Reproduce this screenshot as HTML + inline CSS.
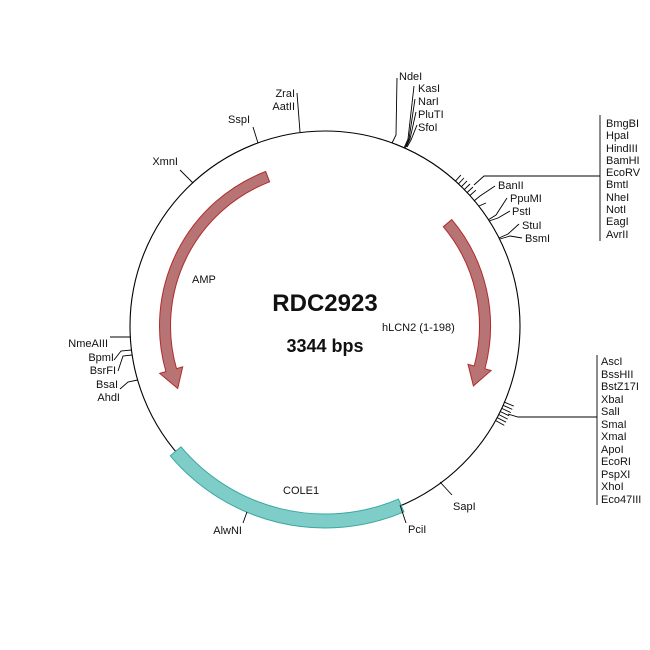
<!DOCTYPE html>
<html><head><meta charset="utf-8"><style>
html,body{margin:0;padding:0;background:#fff;}
svg{display:block;}
text{font-family:"Liberation Sans",Arial,sans-serif;font-size:11px;fill:#111;}
</style></head><body>
<svg width="650" height="650" viewBox="0 0 650 650" xmlns="http://www.w3.org/2000/svg">
<rect width="650" height="650" fill="#fff"/>
<circle cx="325" cy="326" r="195" fill="none" stroke="#000" stroke-width="1.1"/>

<path d="M403.9 511.9 A202 202 0 0 1 170.3 455.8 L181.0 446.8 A188 188 0 0 0 398.5 499.1 Z" fill="#7fcdc9" stroke="#3aa8a0" stroke-width="1"/>

<path d="M451.8 219.6 A165.5 165.5 0 0 1 484.9 368.8 L491.1 370.5 L473.4 385.9 L468.0 364.3 L474.2 366.0 A154.5 154.5 0 0 0 443.3 226.7 Z" fill="#b87474" stroke="#b02c2c" stroke-width="1"/>
<path d="M265.7 171.5 A165.5 165.5 0 0 0 165.9 371.6 L159.7 373.4 L177.7 388.5 L182.7 366.8 L176.5 368.6 A154.5 154.5 0 0 1 269.6 181.8 Z" fill="#b87474" stroke="#b02c2c" stroke-width="1"/>

<g stroke="#000" stroke-width="0.9" fill="none">
<path d="M455.5 181.1 L460.8 175.1 M458.5 183.8 L464 178 M461.4 186.7 L467 180.9 M464.3 189.6 L470 184 M467.2 192.5 L473 187 M469.9 195.5 L475.9 190.2"/>
<polyline points="474,185 484,176 600,176"/>
<line x1="600" y1="115" x2="600" y2="241"/>
<path d="M504.5 402.2 L513.7 406.1 M503.1 405.3 L512.3 409.4 M501.7 408.4 L510.8 412.6 M500.3 411.5 L509.3 415.9 M498.7 414.5 L507.7 419.1 M497.2 417.6 L506 422.2 M495.5 420.5 L504.3 425.4"/>
<polyline points="508,414 518,417 597,417"/>
<line x1="597" y1="355" x2="597" y2="505"/>
<polyline points="392,143 396,135 397,78"/>
<polyline points="404,148 408,139 414,86"/>
<polyline points="405,148 409,139 415,99"/>
<polyline points="406,147 410,139 416,112"/>
<polyline points="407,147 411,140 417,125"/>
<polyline points="474,201 480,196 495,186"/>
<polyline points="479,206 486,203"/>
<polyline points="488,220 496,215 507,198"/>
<polyline points="489,221 498,218 510,211"/>
<polyline points="499,238 508,234 519,224"/>
<polyline points="500,239 510,236 522,238"/>
<polyline points="440,482 452,495"/>
<polyline points="400,505 406,523"/>
<polyline points="247,512 243,523"/>
<polyline points="110,337 131,337"/>
<polyline points="131.5,350 121,351 114,360"/>
<polyline points="132,355 123,356 118,371"/>
<polyline points="137.6,380 128,382 120,389"/>
<polyline points="193,183 180,170"/>
<polyline points="258,143 253,127"/>
<polyline points="300,132 297,93"/>
</g>

<text x="399" y="80">NdeI</text>
<text x="418" y="92">KasI</text>
<text x="418" y="105">NarI</text>
<text x="418" y="118">PluTI</text>
<text x="418" y="131">SfoI</text>

<text x="606" y="127">BmgBI</text>
<text x="606" y="139">HpaI</text>
<text x="606" y="152">HindIII</text>
<text x="606" y="164">BamHI</text>
<text x="606" y="176">EcoRV</text>
<text x="606" y="188">BmtI</text>
<text x="606" y="201">NheI</text>
<text x="606" y="213">NotI</text>
<text x="606" y="225">EagI</text>
<text x="606" y="238">AvrII</text>

<text x="498" y="189">BanII</text>
<text x="510" y="202">PpuMI</text>
<text x="512" y="215">PstI</text>
<text x="522" y="229">StuI</text>
<text x="525" y="242">BsmI</text>

<text x="601" y="365">AscI</text>
<text x="601" y="378">BssHII</text>
<text x="601" y="390">BstZ17I</text>
<text x="601" y="403">XbaI</text>
<text x="601" y="415">SalI</text>
<text x="601" y="428">SmaI</text>
<text x="601" y="440">XmaI</text>
<text x="601" y="453">ApoI</text>
<text x="601" y="465">EcoRI</text>
<text x="601" y="478">PspXI</text>
<text x="601" y="490">XhoI</text>
<text x="601" y="503">Eco47III</text>

<text x="453" y="510">SapI</text>
<text x="408" y="533">PciI</text>
<text x="242" y="534" text-anchor="end">AlwNI</text>

<text x="108" y="347" text-anchor="end">NmeAIII</text>
<text x="114" y="361" text-anchor="end">BpmI</text>
<text x="116" y="374" text-anchor="end">BsrFI</text>
<text x="118" y="388" text-anchor="end">BsaI</text>
<text x="120" y="401" text-anchor="end">AhdI</text>

<text x="178" y="165" text-anchor="end">XmnI</text>
<text x="250" y="123" text-anchor="end">SspI</text>
<text x="295" y="97" text-anchor="end">ZraI</text>
<text x="295" y="110" text-anchor="end">AatII</text>

<text x="192" y="283">AMP</text>
<text x="382" y="331">hLCN2 (1-198)</text>
<text x="283" y="494">COLE1</text>

<text x="325" y="311" text-anchor="middle" style="font-size:24px;font-weight:bold;">RDC2923</text>
<text x="325" y="352" text-anchor="middle" style="font-size:18px;font-weight:bold;">3344 bps</text>
</svg>
</body></html>
